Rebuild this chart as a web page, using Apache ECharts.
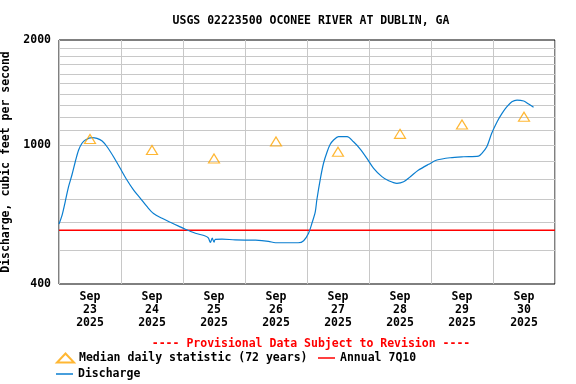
<!DOCTYPE html>
<html><head><meta charset="utf-8">
<script src="https://cdn.jsdelivr.net/npm/echarts@6/dist/echarts.min.js"></script>
<style>html,body{margin:0;padding:0;background:#fff}#c{width:576px;height:384px}</style>
</head><body><div id="c"></div>
<script>
const titleText = 'USGS 02223500 OCONEE RIVER AT DUBLIN, GA';
const yAxisName = 'Discharge, cubic feet per second';
const footerText = '---- Provisional Data Subject to Revision ----';
const dayMonths = ['Sep','Sep','Sep','Sep','Sep','Sep','Sep','Sep'];
const dayNumbers = ['23','24','25','26','27','28','29','30'];
const dayYears = ['2025','2025','2025','2025','2025','2025','2025','2025'];
const medianValues = [1041, 968, 915, 1024, 957, 1077, 1146, 1206];
const q710Value = 570;
const gridValues = [500,600,700,800,900,1000,1100,1200,1300,1400,1500,1600,1700,1800,1900];
// hours since Sep 23 00:00
const hours = [0,1.2,2.4,3.7,5.0,6.3,7.6,8.9,10.2,12.8,14.7,16.7,18.6,21.1,23.7,26.3,28.9,31.5,34.1,36.6,39.9,43.1,46.3,48.9,52.8,56.6,57.8,58.6,59.3,60.0,60.5,63.1,68.2,76.1,81.1,83.8,88.8,92.6,94.7,96.6,97.9,99.2,99.8,101.2,102.4,103.8,105.0,106.3,108.2,111.5,114.0,116.6,119.2,121.8,125.0,127.6,130.8,133.4,136.0,139.2,143.1,146.3,151.4,156.6,162.4,163.7,165.6,167.5,169.6,171.5,173.4,175.3,177.3,179.9,181.8,183.7];
const discharge = [594,630,688,760,821,896,968,1012,1034,1050,1045,1027,989,926,858,794,743,704,666,637,617,601,586,574,559,549,542,526,541,527,537,538,535,534,530,525,525,525,532,559,597,644,696,803,887,957,1005,1034,1057,1057,1022,974,916,858,812,790,777,785,812,848,881,906,920,926,930,947,989,1081,1167,1233,1288,1331,1346,1337,1311,1283];
const totalHours = 192;

const FONT = 'DejaVu Sans Mono';
const textStyle = {fontFamily: FONT, fontWeight: 'bold', fontSize: 11.5, color: '#000'};
const categories = dayMonths.map((m, i) => m + '\n' + dayNumbers[i] + '\n' + dayYears[i]);
const chart = echarts.init(document.getElementById('c'), null, {renderer: 'canvas'});
chart.setOption({
  animation: false,
  backgroundColor: '#fff',
  title: [
    {text: titleText, left: 306, top: 10, textAlign: 'center', textStyle: textStyle},
    {text: footerText, left: 306, top: 333, textAlign: 'center',
     textStyle: Object.assign({}, textStyle, {color: '#ff0000'})}
  ],
  legend: [
    {left: 51, top: 347, itemWidth: 17, itemHeight: 9, itemGap: 8,
     data: [{name: 'Median daily statistic (72 years)', icon: 'triangle'}], textStyle: textStyle},
    {left: 313, top: 347, itemWidth: 17, itemHeight: 1.5, itemGap: 8,
     data: [{name: 'Annual 7Q10', icon: 'rect'}], textStyle: textStyle},
    {left: 51, top: 363, itemWidth: 17, itemHeight: 1.5, itemGap: 8,
     data: [{name: 'Discharge', icon: 'rect'}], textStyle: textStyle}
  ],
  grid: {left: 59, right: 21, top: 40, bottom: 100, containLabel: false, outerBoundsMode: 'none',
         show: true, borderColor: '#000', borderWidth: 1, backgroundColor: '#fff'},
  xAxis: [
    {type: 'value', min: 0, max: totalHours, show: false},
    {type: 'category', data: categories, boundaryGap: true, position: 'bottom',
     axisLine: {show: false}, axisTick: {show: false},
     splitLine: {show: true, lineStyle: {color: '#c8c8c8', width: 1}},
     axisLabel: Object.assign({margin: 7, lineHeight: 13}, textStyle)}
  ],
  yAxis: {
    type: 'log', logBase: 10, min: 400, max: 2000,
    name: yAxisName, nameLocation: 'middle', nameGap: 36.5, nameRotate: 90,
    nameTextStyle: textStyle,
    axisLine: {show: false}, axisTick: {show: false}, splitLine: {show: false}, minorSplitLine: {show: false},
    axisLabel: Object.assign({margin: 8, formatter: v => String(Math.round(v))}, textStyle)
  },
  series: [
    {name: 'Annual 7Q10', type: 'line', xAxisIndex: 0, z: 2, symbol: 'none',
     data: [[0, q710Value], [totalHours, q710Value]],
     lineStyle: {color: '#ff0000', width: 1.5}, itemStyle: {color: '#ff0000'},
     markLine: {silent: true, z: 1, symbol: 'none', label: {show: false},
       lineStyle: {color: '#c8c8c8', width: 1, type: 'solid'},
       data: gridValues.map(v => ({yAxis: v}))}},
    {name: 'Discharge', type: 'line', xAxisIndex: 0, z: 3, symbol: 'none', smooth: 0.3,
     data: hours.map((h, i) => [h, discharge[i]]),
     lineStyle: {color: '#0a7ed0', width: 1.2}, itemStyle: {color: '#0a7ed0'}},
    {name: 'Median daily statistic (72 years)', type: 'scatter', xAxisIndex: 1, z: 4,
     symbol: 'triangle', symbolSize: [11, 9],
     data: medianValues.map((v, i) => [categories[i], v]),
     itemStyle: {color: 'rgba(0,0,0,0)', borderColor: '#ffa500', borderWidth: 1.2}}
  ]
});
</script></body></html>
